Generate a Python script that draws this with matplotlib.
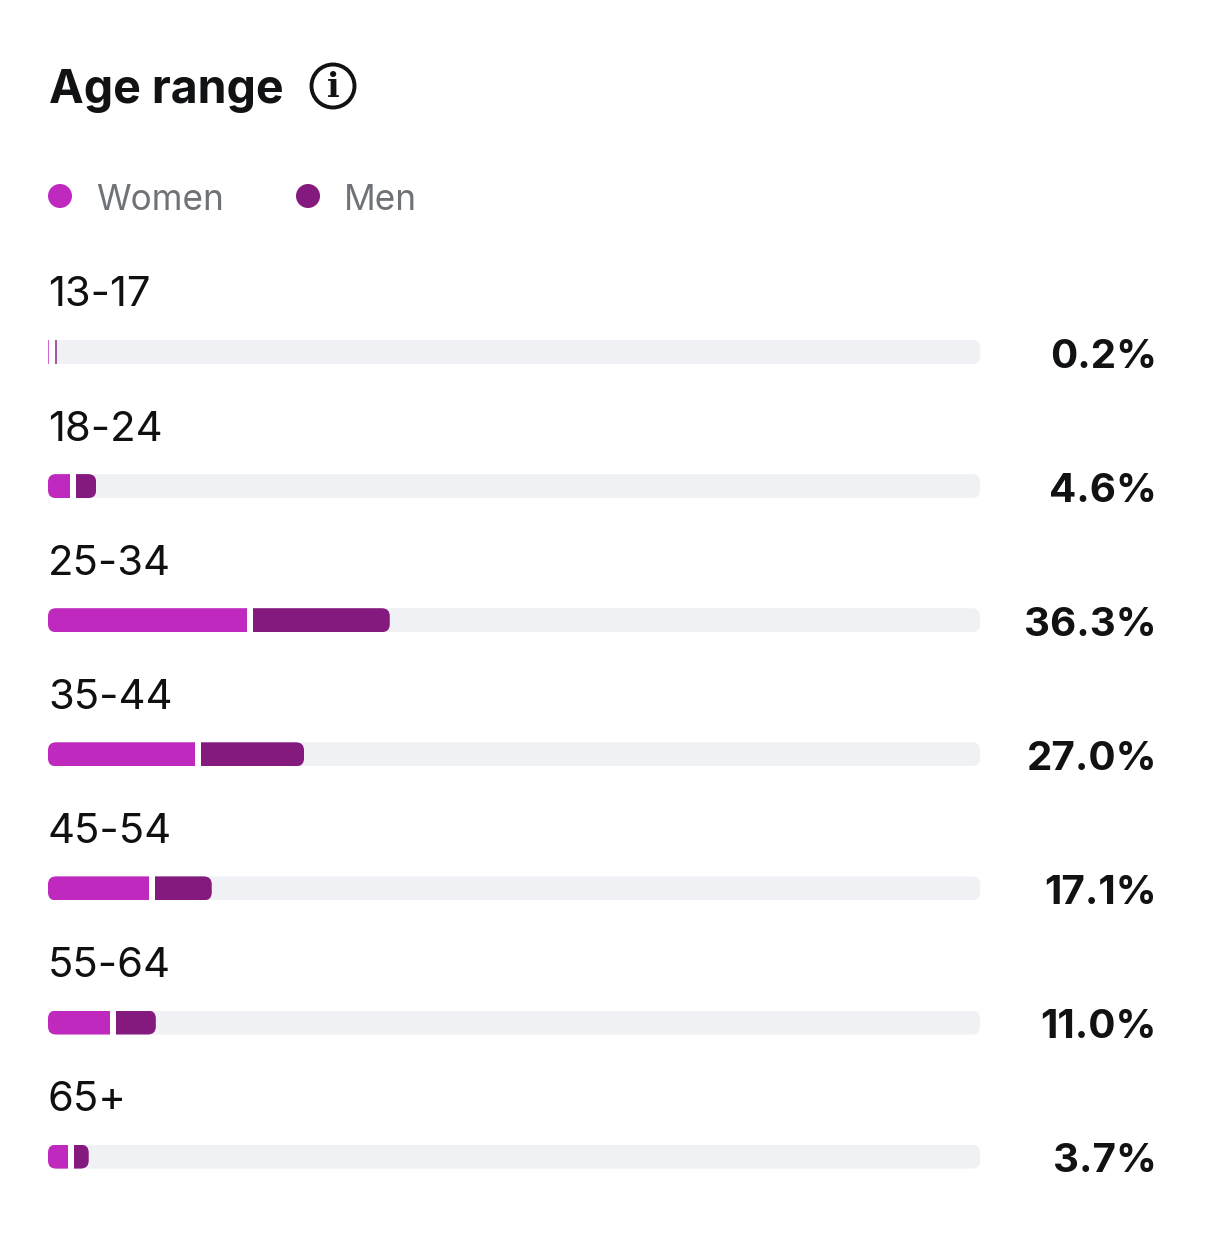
import matplotlib
matplotlib.use('Agg')
from matplotlib import pyplot as plt, patches
from matplotlib.transforms import IdentityTransform

W, H = 1206, 1245

age_groups = ['13-17', '18-24', '25-34', '35-44', '45-54', '55-64', '65+']
women = [0.15, 2.4, 21.35, 15.8, 10.85, 6.65, 2.15]
men = [0.15, 2.15, 14.7, 11.05, 6.1, 4.3, 1.6]
totals = ['0.2%', '4.6%', '36.3%', '27.0%', '17.1%', '11.0%', '3.7%']

WOMEN_COL = '#c029bd'
MEN_COL = '#841a7e'
TRACK_COL = '#f0f1f4'
GAP = 0.62  # white gap between the two segments, in percent units
ROW_PX = 134.1
BAR_PX = 24

plt.rcParams['font.family'] = ['Inter', 'DejaVu Sans']

fig = plt.figure(figsize=(W / 100, H / 100), dpi=100, facecolor='white')

# overlay in pixel coordinates for the text and the little icons
bg = fig.add_axes([0, 0, 1, 1])
bg.set_xlim(0, W)
bg.set_ylim(H, 0)
bg.axis('off')

# bars: x is percent of the track, y is the row number
top = 352 - ROW_PX / 2
ax = fig.add_axes([48 / W, 1 - (top + 7 * ROW_PX) / H, 932 / W, 7 * ROW_PX / H])
ax.set_xlim(0, 100)
ax.set_ylim(6.5, -0.5)
ax.axis('off')
ax.patch.set_alpha(0)

bar_h = BAR_PX / ROW_PX


def rounded_clip(x0, x1, row, radius=8):
    # rounded box in display pixels so the corners stay circular
    (px0, py0), (px1, py1) = ax.transData.transform([(x0, row + bar_h / 2), (x1, row - bar_h / 2)])
    return patches.FancyBboxPatch((px0, py0), px1 - px0, py1 - py0,
                                  boxstyle=f'round,pad=0,rounding_size={radius}',
                                  transform=IdentityTransform())


for i in range(len(age_groups)):
    track = ax.barh(i, 100, height=bar_h, color=TRACK_COL, linewidth=0)[0]
    track.set_clip_path(rounded_clip(0, 100, i))

    men_left = women[i] + GAP
    end = men_left + men[i]
    # the tiny 13-17 row comes out fainter in the reference
    alpha = 1 if women[i] > 1 else 0.7
    b1 = ax.barh(i, women[i], height=bar_h, color=WOMEN_COL, linewidth=0, alpha=alpha)[0]
    b2 = ax.barh(i, men[i], left=men_left, height=bar_h, color=MEN_COL, linewidth=0, alpha=alpha)[0]
    if women[i] > 1:
        b1.set_clip_path(rounded_clip(0, end, i))
        b2.set_clip_path(rounded_clip(0, end, i))
    # white gap keeps the segments apart on the track
    ax.barh(i, GAP, left=women[i], height=bar_h, color='white', linewidth=0)

    y = 352 + i * ROW_PX
    bg.text(48, y - 45.5, age_groups[i], fontsize=30.1, color='#0f1012', va='baseline', ha='left')
    bg.text(1157, y + 15.5, totals[i], fontsize=29, fontweight='bold', color='#111214', va='baseline', ha='right')

# title and info icon
bg.text(49, 103, 'Age range', fontsize=33.5, fontweight='bold', color='#111214', va='baseline')
bg.add_patch(patches.Circle((333, 86), 21.5, fill=False, edgecolor='#111214', linewidth=2.8))
bg.text(333, 97, 'i', fontsize=24, fontweight='bold', family='DejaVu Serif', color='#111214', ha='center', va='baseline')

# legend
bg.add_patch(patches.Circle((60, 196), 12, color=WOMEN_COL, linewidth=0))
bg.add_patch(patches.Circle((308, 196), 12, color=MEN_COL, linewidth=0))
bg.text(96, 210, 'Women', fontsize=25.3, color='#6f7377', va='baseline')
bg.text(344, 210, 'Men', fontsize=25.3, color='#6f7377', va='baseline')

fig.savefig('out.png', dpi=100, facecolor='white')
